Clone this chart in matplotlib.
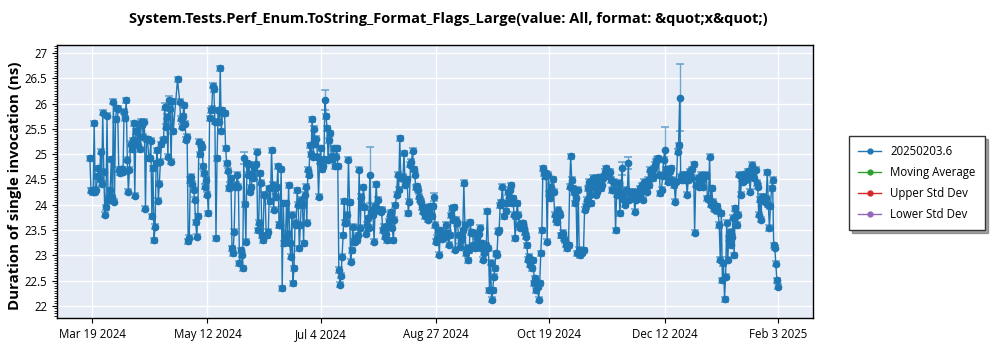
import numpy as np
import pandas as pd
import matplotlib
matplotlib.use('Agg')
import matplotlib.pyplot as plt
from matplotlib.lines import Line2D
from matplotlib.ticker import MultipleLocator

plt.rcParams['font.family'] = ['Open Sans', 'DejaVu Sans']

# two runs per day (00:00 and 12:00), 18 Mar 2024 .. 3 Feb 2025; nan = no run
first_day = '2024-03-18'
last_day = '2025-02-03'

# first run of the day
mar = [24.92, 24.28, 25.61, 24.30, 24.72, 25.05, 25.82, 23.80, 25.76, 24.15, 24.90, 26.04, 25.69, 25.90]
apr = [24.63, 24.70, 25.84, 26.07, 24.26, 25.21, 25.28, 24.18, 25.45, 25.58,
       25.64, 25.35, 23.92, 25.30, 24.92, 23.77, 23.30, 24.82, 24.08, 24.85,
       25.28, 25.94, 25.74, 26.07, 24.85, 25.45, np.nan, 26.48, 26.04, 25.54]
may = [25.97, 25.29, 23.28, 24.49, 24.42, 24.10, 23.37, 25.25, 25.20, 24.76,
       24.36, 24.20, 25.71, 25.90, 26.28, 23.34, 25.87, 26.70, 25.87, 25.81,
       24.82, 24.33, 24.52, 23.04, 24.36, 24.59, 22.84, 23.01, 24.92, 23.27, 24.59]
jun = [24.26, 24.60, 24.72, 25.05, 23.64, 24.44, 23.30, 24.20, 23.40, 24.33,
       25.08, 23.90, 24.16, 24.76, 23.60, 22.35, 23.24, 24.03, 24.39, 22.97,
       22.45, 23.64, 24.29, 23.14, 24.10, 23.24, 24.36, 24.69, 25.18, 25.69]
jul = [25.50, 25.31, 24.16, 25.12, 24.76, 26.07, 25.51, 25.28, 24.95, 25.12,
       24.95, 24.76, 22.42, 22.97, 24.07, 23.64, 24.89, 22.87, 23.57, 23.27,
       23.30, 24.69, 24.16, 24.35, 23.43, 23.73, 24.59, 23.90, 23.27, 24.41, 24.10]
aug = [23.86, 23.50, 23.37, 23.30, 23.67, 23.85, 23.30, 23.99, 24.59, 25.32,
       24.52, 25.02, 24.46, 23.83, 24.79, 25.07, 24.59, 24.37, 24.16, 24.06,
       23.86, 23.77, 23.70, 23.97, 23.77, 24.15, 23.27, 23.50, 23.50, 23.33, 23.37]
sep = [23.40, 23.21, 23.79, 23.70, 23.11, 23.63, 23.17, 23.37, 24.43, 23.04,
       22.90, 23.65, 23.46, 23.14, 23.37, 23.43, 23.14, 22.91, 23.11, 23.87,
       22.31, 22.12, 22.58, 23.04, 23.47, 23.99, 24.36, 23.77, 24.03, 24.16]
oct_ = [24.39, 24.13, 23.34, 24.03, 23.60, 23.63, 23.55, 23.37, 22.91, 22.81,
        22.74, 22.45, 22.31, 22.12, 23.04, 24.72, 24.56, 23.27, 24.23, 24.36,
        24.26, 23.70, 23.90, 23.80, 23.40, 23.33, 23.21, 23.20, 24.96, 24.33, 24.03]
nov = [23.04, 23.11, 23.04, 23.10, 23.97, 24.33, 24.20, 24.35, 24.50, 24.20,
       24.54, 24.33, 24.52, 24.65, 24.60, 24.56, 24.49, 24.30, 23.50, 24.30,
       23.83, 24.72, 24.10, 24.30, 24.82, 24.16, 24.20, 23.86, 24.20, 24.20]
dec = [24.26, 24.10, 24.39, 24.49, 24.69, 24.63, 24.72, 24.86, 24.92, 24.23,
       24.56, 25.08, 24.63, 24.49, 24.72, 24.46, 24.06, 25.05, 26.12, 24.49,
       24.59, 24.56, 24.49, 24.66, 24.70, 23.45, 24.39, 24.36, 24.59, 24.36, 24.56]
jan = [24.13, 24.95, 24.33, 23.93, 23.97, 23.87, 22.91, 22.51, 22.13, 23.64,
       23.34, 23.21, 23.74, 23.93, 23.60, 24.59, 24.52, 24.60, 24.59, 24.66,
       24.26, 24.79, 24.52, 24.43, 23.80, 23.70, 24.16, 24.06, 24.64, 23.54, 24.33]
feb = [23.20, 22.83, 22.38]

# second run of the day
mar_b = [24.28, 24.25, 24.26, 24.56, 24.50, 24.42, 24.65, 23.95, 24.10, 24.29, 24.15, 24.06, 25.91, 24.69]
apr_b = [24.70, 24.65, 25.71, 24.89, 24.69, 25.10, 25.61, 25.45, 25.19, 25.10,
         25.58, 25.64, 25.30, 24.92, 25.27, 24.72, 23.57, 25.08, 24.42, 25.20,
         25.30, 25.54, 24.95, 25.90, 26.05, np.nan, np.nan, np.nan, 25.70, 25.75]
may_b = [25.60, 25.35, 23.35, 24.55, 24.30, 23.65, 23.77, 25.00, 25.14, 24.62,
         24.49, 23.83, 25.87, 26.35, 25.64, 24.92, 25.64, 25.45, 25.81, 25.12,
         24.67, 24.40, 23.14, 23.47, 24.40, 24.36, 23.10, 22.74, 24.01, 24.82, 24.80]
jun_b = [24.35, 24.52, 24.80, 23.50, 24.62, 23.40, 24.20, 23.40, 23.47, 24.07,
         24.40, 24.33, 24.35, 23.60, 24.70, 24.03, 23.30, 23.43, 23.24, 23.80,
         22.74, 23.60, 24.00, 23.60, 24.00, 24.20, 23.64, 24.59, 25.00, 24.95]
jul_b = [25.20, 24.95, 24.85, 24.70, 24.90, 25.75, 24.89, 25.41, 24.90, 24.76,
         25.12, 22.71, 22.60, 23.40, 23.64, 23.80, 24.05, 23.10, 23.27, 23.35,
         23.40, 23.55, 23.97, 23.95, 23.60, 23.55, 23.85, 23.80, 23.97, 23.90, 23.90]
aug_b = [23.90, 23.57, 23.43, 23.57, 23.80, 23.55, 23.70, 24.20, 24.30, 24.52,
         24.55, 24.40, 24.50, 24.06, 24.85, 24.70, 24.35, 24.30, 24.10, 23.95,
         23.95, 23.85, 23.90, 23.80, 23.97, 23.60, 23.35, 23.01, 23.45, 23.40, 23.60]
sep_b = [23.45, 23.40, 23.93, 23.95, 23.70, 23.40, 23.30, 23.50, 23.60, 23.15,
         23.10, 23.45, 23.20, 23.43, 23.24, 23.55, 23.24, 23.05, 23.20, 23.14,
         22.85, 22.31, 22.74, 23.01, 23.50, 24.05, 24.03, 23.87, 24.25, 24.30]
oct_b = [24.03, 23.80, 23.77, 23.80, 23.55, 23.63, 23.45, 23.20, 22.97, 22.90,
         22.90, 22.55, 22.38, 22.45, 23.50, 24.62, 24.62, 24.59, 24.13, 24.50,
         23.80, 23.65, 23.83, 23.40, 23.45, 23.30, 23.14, 24.36, 24.49, 24.25, 24.13]
nov_b = [24.30, 23.00, 23.05, 23.90, 24.10, 24.45, 24.03, 24.53, 24.40, 24.26,
         24.40, 24.40, 24.56, 24.72, 24.65, 24.65, 24.29, 24.45, 24.20, 24.43,
         24.20, 24.23, 24.00, 24.26, 24.10, 24.26, 24.26, 24.10, 24.13, 24.33]
dec_b = [24.39, 24.46, 24.26, 24.39, 24.56, 24.52, 24.79, 24.89, 24.59, 24.30,
         24.89, 24.70, 24.46, 24.66, 24.49, 24.39, 24.46, 25.18, 24.56, 24.59,
         24.49, 24.20, 24.60, 24.52, 24.80, 24.40, 24.53, 24.49, 24.49, 24.56, 24.59]
jan_b = [24.10, 24.00, 24.06, 23.90, 23.97, 23.60, 23.83, 22.84, 22.58, 22.91,
         23.47, 23.37, 23.00, 23.80, 23.80, 24.20, 24.46, 24.49, 24.52, 24.56,
         24.66, 24.62, 24.69, 24.36, 24.10, 24.16, 24.10, 24.13, 24.00, 23.97, 24.49]
feb_b = [23.15, 22.51, np.nan]

# error bars: most runs are tight, a few are wide (first run of those days)
base_err = 0.05
wide_err_days = ['2024-04-22', '2024-04-24', '2024-05-29', '2024-07-06', '2024-07-27',
                 '2024-08-26', '2024-11-22', '2024-11-25', '2024-12-12', '2024-12-19']
wide_err_size = [0.07, 0.08, 0.12, 0.20, 0.56, 0.08, 0.13, 0.12, 0.46, 0.66]

tick_days = ['2024-03-19', '2024-05-12', '2024-07-04', '2024-08-27',
             '2024-10-19', '2024-12-12', '2025-02-03']
tick_labels = ['Mar 19 2024', 'May 12 2024', 'Jul 4 2024', 'Aug 27 2024',
               'Oct 19 2024', 'Dec 12 2024', 'Feb 3 2025']

legend_names = ['20250203.6', 'Moving Average', 'Upper Std Dev', 'Lower Std Dev']
legend_colors = ['#1f77b4', '#2ca02c', '#d62728', '#9467bd']

days = pd.date_range(first_day, last_day, freq='D')
runs_a = pd.Series(mar + apr + may + jun + jul + aug + sep + oct_ + nov + dec + jan + feb, index=days)
runs_b = pd.Series(mar_b + apr_b + may_b + jun_b + jul_b + aug_b + sep_b + oct_b + nov_b
                   + dec_b + jan_b + feb_b, index=days + pd.Timedelta(hours=12))
err_a = pd.Series(base_err, index=runs_a.index)
err_a[pd.to_datetime(wide_err_days)] = wide_err_size
err_b = pd.Series(base_err, index=runs_b.index)

vals = pd.concat([runs_a, runs_b]).sort_index()
errs = pd.concat([err_a, err_b]).sort_index()
ok = vals.notna()
vals, errs = vals[ok], errs[ok]

fig = plt.figure(figsize=(10, 3.5), dpi=100)
ax = fig.add_axes([0.057, 0.0914, 0.756, 0.78])
ax.set_facecolor('#e5ecf6')

ax.errorbar(vals.index, vals.values, yerr=errs.values, fmt='o-', color='#1f77b4',
            ms=4.5, lw=1, ecolor=(0.12, 0.47, 0.71, 0.6), elinewidth=1,
            capsize=3, capthick=1.2, zorder=3)

x0 = pd.Timestamp(first_day)
ax.set_xlim(x0 - pd.Timedelta(days=15.4), x0 + pd.Timedelta(days=338.4))
ax.set_ylim(21.76, 27.16)

ax.set_xticks(pd.to_datetime(tick_days))
ax.set_xticklabels(tick_labels)
ax.yaxis.set_major_locator(MultipleLocator(0.5))
ax.yaxis.set_minor_locator(MultipleLocator(0.05))
ax.yaxis.set_major_formatter(plt.FuncFormatter(lambda v, p: f'{v:g}'))
ax.tick_params(axis='both', which='major', labelsize=8.3, length=3.5, color='black')
ax.tick_params(axis='y', which='minor', length=2)

ax.grid(True, color='white', lw=1)
ax.set_axisbelow(True)
for s in ax.spines.values():
    s.set_color('black')
    s.set_linewidth(1)

fig.text(0.4485, 0.945, 'System.Tests.Perf_Enum.ToString_Format_Flags_Large(value: All, format: &quot;x&quot;)',
         ha='center', va='center', fontsize=10.5, fontweight='bold')
fig.text(0.015, 0.47, 'Duration of single invocation (ns)', rotation=90,
         ha='center', va='center', fontsize=10.8, fontweight='bold')

handles = [Line2D([], [], color=c, marker='o', ms=3.5, lw=1) for c in legend_colors]
leg = fig.legend(handles, legend_names, loc='center left', bbox_to_anchor=(0.843, 0.477),
                 fontsize=8.3, frameon=True, fancybox=False, shadow=True,
                 edgecolor='#333333', borderpad=0.8, handlelength=2, labelspacing=0.7)
leg.get_frame().set_linewidth(1)

fig.savefig('out.png', dpi=100)
